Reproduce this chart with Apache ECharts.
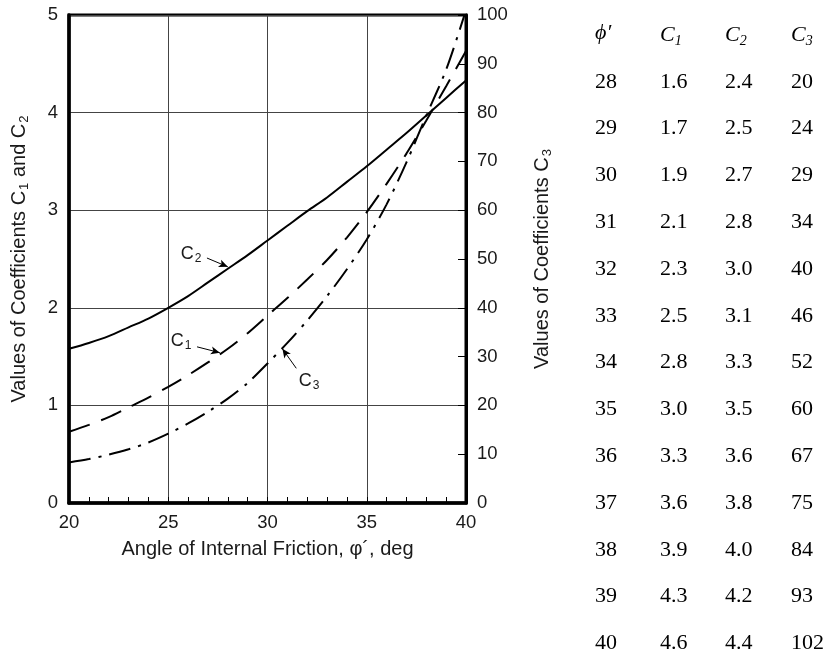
<!DOCTYPE html>
<html>
<head>
<meta charset="utf-8">
<style>
  html, body { margin: 0; padding: 0; background: #fff; }
  #chart { width: 826px; height: 658px; }
</style>
<script src="https://cdn.jsdelivr.net/npm/echarts@6/dist/echarts.min.js"></script>
</head>
<body>
<div id="chart"></div>
<script>
// Angle of internal friction (deg) along the curves
const angles = [20, 21, 22, 23, 24, 25, 26, 27, 28, 29, 30, 31, 32, 33, 34, 35, 36, 37, 38, 39, 40];
// Coefficient curves (C1, C2 on the left axis; C3 on the right axis)
const c1Curve = [0.73, 0.80, 0.88, 0.98, 1.08, 1.19, 1.31, 1.44, 1.58, 1.74, 1.92, 2.10, 2.29, 2.49, 2.72, 2.98, 3.27, 3.58, 3.92, 4.27, 4.63];
const c2Curve = [1.58, 1.64, 1.71, 1.80, 1.89, 2.00, 2.12, 2.26, 2.40, 2.54, 2.69, 2.84, 2.99, 3.13, 3.29, 3.45, 3.62, 3.79, 3.97, 4.15, 4.33];
const c3Curve = [8.3, 9.0, 9.9, 11.0, 12.4, 14.2, 16.3, 18.7, 21.4, 24.6, 28.6, 32.8, 37.4, 42.4, 47.9, 54.0, 61.2, 69.8, 79.4, 88.8, 101];

// Tabulated coefficients
const tablePhi = ['28', '29', '30', '31', '32', '33', '34', '35', '36', '37', '38', '39', '40'];
const tableC1 = ['1.6', '1.7', '1.9', '2.1', '2.3', '2.5', '2.8', '3.0', '3.3', '3.6', '3.9', '4.3', '4.6'];
const tableC2 = ['2.4', '2.5', '2.7', '2.8', '3.0', '3.1', '3.3', '3.5', '3.6', '3.8', '4.0', '4.2', '4.4'];
const tableC3 = ['20', '24', '29', '34', '40', '46', '52', '60', '67', '75', '84', '93', '102'];

const SANS = 'Liberation Sans, Arial, Helvetica, sans-serif';
const SERIF = 'Liberation Serif, Times New Roman, serif';
const INK = '#1a1a1a';

// rich styles for axis names (n = normal, s = subscript)
const nameRich = {
  n: { fontFamily: SANS, fontSize: 20, color: INK, lineHeight: 24 },
  s: { fontFamily: SANS, fontSize: 13, color: INK, lineHeight: 12, verticalAlign: 'bottom', padding: [10, 0, 0, 1] }
};
// rich styles for the curve tags
const tagRich = {
  n: { fontFamily: SANS, fontSize: 18, color: INK, lineHeight: 22 },
  s: { fontFamily: SANS, fontSize: 12, color: INK, lineHeight: 11, verticalAlign: 'bottom', padding: [10, 0, 0, 1] }
};

// Table built from the arrays above
const tableCols = [595, 660, 725, 791];
const rowY0 = 35, rowStep = 46.8;
const tableGraphics = [];
const headRich = {
  i: { fontFamily: SERIF, fontSize: 22, fontStyle: 'italic', fill: '#000', lineHeight: 26 },
  s: { fontFamily: SERIF, fontSize: 14, fontStyle: 'italic', fill: '#000', lineHeight: 12, verticalAlign: 'bottom', padding: [12, 0, 0, 0] }
};
const headers = ['{i|ϕ′}', '{i|C}{s|1}', '{i|C}{s|2}', '{i|C}{s|3}'];
headers.forEach(function (h, k) {
  tableGraphics.push({
    type: 'text', left: tableCols[k], top: rowY0 - 13,
    style: { text: h, rich: headRich, fill: '#000' }
  });
});
const cols = [tablePhi, tableC1, tableC2, tableC3];
for (let r = 0; r < tablePhi.length; r++) {
  for (let k = 0; k < 4; k++) {
    tableGraphics.push({
      type: 'text',
      x: tableCols[k], y: rowY0 + (r + 1) * rowStep,
      style: { text: cols[k][r], font: '22px ' + SERIF, fill: '#000', textVerticalAlign: 'middle', textAlign: 'left' }
    });
  }
}

function pair(data) { return angles.map(function (a, i) { return [a, data[i]]; }); }

function arrow(from, to) {
  return [{ coord: from }, { coord: to }];
}
function tag(text, at) {
  return {
    coord: at, symbol: 'circle', symbolSize: 0,
    label: { show: true, position: 'inside', formatter: text, rich: tagRich }
  };
}
const markLineBase = {
  silent: true, symbol: ['none', 'arrow'], symbolSize: [6, 9],
  label: { show: false },
  lineStyle: { type: 'solid', color: '#000', width: 1 }
};

const chart = echarts.init(document.getElementById('chart'), null, { renderer: 'canvas' });
chart.setOption({
  animation: false,
  backgroundColor: '#fff',
  grid: { left: 69, right: 360, top: 15, bottom: 155, show: true, borderColor: '#000', borderWidth: 3, backgroundColor: 'transparent' },
  xAxis: {
    type: 'value', min: 20, max: 40, interval: 5,
    name: 'Angle of Internal Friction, φ´, deg', nameLocation: 'middle', nameGap: 36,
    nameTextStyle: { fontFamily: SANS, fontSize: 20, color: INK },
    axisLine: { show: true, lineStyle: { color: '#000', width: 3.5 } },
    axisTick: { show: true, inside: true, length: 6, lineStyle: { color: '#000', width: 1 } },
    minorTick: { show: true, splitNumber: 5, length: 6, lineStyle: { color: '#000', width: 1 } },
    axisLabel: { fontFamily: SANS, fontSize: 18.5, color: INK, margin: 10 },
    splitLine: { show: true, lineStyle: { color: '#444', width: 1 } }
  },
  yAxis: [
    {
      type: 'value', min: 0, max: 5, interval: 1, position: 'left',
      name: '{n|Values of Coefficients C}{s|1}{n| and C}{s|2}', nameLocation: 'middle', nameGap: 38, nameRotate: 90,
      nameTextStyle: { rich: nameRich },
      axisLine: { show: true, lineStyle: { color: '#000', width: 3.5 } },
      axisTick: { show: false },
      axisLabel: { fontFamily: SANS, fontSize: 18.5, color: INK, margin: 11 },
      splitLine: { show: true, lineStyle: { color: '#444', width: 1 } }
    },
    {
      type: 'value', min: 0, max: 100, interval: 10, position: 'right',
      name: '{n|Values of Coefficients C}{s|3}', nameLocation: 'middle', nameGap: 64, nameRotate: 90,
      nameTextStyle: { rich: nameRich },
      axisLine: { show: true, lineStyle: { color: '#000', width: 3 } },
      axisTick: { show: true, inside: true, length: 8, lineStyle: { color: '#000', width: 1 } },
      axisLabel: { fontFamily: SANS, fontSize: 18.5, color: INK, margin: 11 },
      splitLine: { show: false }
    }
  ],
  series: [
    {
      name: 'C1', type: 'line', yAxisIndex: 0, data: pair(c1Curve), smooth: 0.3, showSymbol: false, symbol: 'none',
      lineStyle: { color: '#000', width: 2, type: [22, 12] },
      markLine: Object.assign({ data: [arrow([26.45, 1.60], [27.6, 1.54])] }, markLineBase),
      markPoint: { silent: true, data: [tag('{n|C}{s|1}', [25.65, 1.66])] }
    },
    {
      name: 'C2', type: 'line', yAxisIndex: 0, data: pair(c2Curve), smooth: 0.3, showSymbol: false, symbol: 'none',
      lineStyle: { color: '#000', width: 2, type: 'solid' },
      markLine: Object.assign({ data: [arrow([26.95, 2.51], [28.0, 2.42])] }, markLineBase),
      markPoint: { silent: true, data: [tag('{n|C}{s|2}', [26.15, 2.55])] }
    },
    {
      name: 'C3', type: 'line', yAxisIndex: 1, data: pair(c3Curve), smooth: 0.3, showSymbol: false, symbol: 'none',
      lineStyle: { color: '#000', width: 2, type: [22, 8, 3, 8] },
      markLine: Object.assign({ data: [arrow([31.45, 27.6], [30.75, 31.6])] }, markLineBase),
      markPoint: { silent: true, data: [tag('{n|C}{s|3}', [32.1, 25.0])] }
    }
  ],
  graphic: tableGraphics
});
</script>
</body>
</html>
